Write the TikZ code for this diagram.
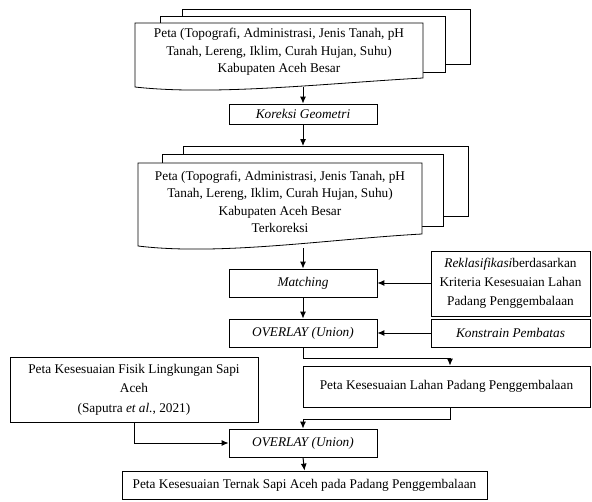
\documentclass[tikz,border=0pt]{standalone}
\usepackage{fontspec}
\setmainfont{Liberation Serif}
\usetikzlibrary{arrows.meta}

\begin{document}
\begin{tikzpicture}[x=1pt,y=-1pt, line width=0.8pt,
		every node/.style={font=\fontsize{13.3}{17.5}\selectfont, align=center},
		box/.style={draw, fill=white, inner sep=2pt},
		page/.style={draw, fill=white},
		line/.style={-{Latex[length=7pt,width=6pt]}, line width=1pt}]
	\useasboundingbox (0,0) rectangle (592,501);
	% peta awal, tiga lembar
	\draw[page] (182,9) rectangle (470,64);
	\draw[page] (160,16) rectangle (445,72);
	\draw[page] (135,23) -- (423,23) -- (423,78)
		.. controls (330,83) and (215,96) .. (135,87) -- cycle;
	\node (peta) at (279,52) {Peta (Topografi, Administrasi, Jenis Tanah, pH\\
		Tanah, Lereng, Iklim, Curah Hujan, Suhu)\\ Kabupaten Aceh Besar};
	\node[box, minimum width=148pt, minimum height=20pt] (koreksi) at (303,114) {\textit{Koreksi Geometri}};
	% peta terkoreksi
	\draw[page] (183,146) rectangle (468,216);
	\draw[page] (162,154) rectangle (443,226);
	\draw[page] (138,163) -- (422,163) -- (422,234)
		.. controls (330,239) and (220,256) .. (138,246) -- cycle;
	\node (koreksipeta) at (280,202) {Peta (Topografi, Administrasi, Jenis Tanah, pH\\
		Tanah, Lereng, Iklim, Curah Hujan, Suhu)\\ Kabupaten Aceh Besar\\ Terkoreksi};
	\coordinate (petabawah) at (303,87);
	\coordinate (koreksiatas) at (303,146);
	\coordinate (koreksibawah) at (303,248);

	\node[box, minimum width=148pt, minimum height=28pt] (matching) at (303,283) {\textit{Matching}};
	\node[box, minimum width=148pt, minimum height=28pt] (overlaya) at (303,333) {\textit{OVERLAY (Union)}};
	\node[box, minimum width=159pt, minimum height=65pt, font=\fontsize{13.3}{19}\selectfont] (reklas) at (510.5,283.5)
		{\textit{Reklasifikasi}berdasarkan\\ Kriteria Kesesuaian Lahan\\ Padang Penggembalaan};
	\node[box, minimum width=159pt, minimum height=28pt] (konstrain) at (510.5,333) {\textit{Konstrain Pembatas}};
	\node[box, minimum width=287pt, minimum height=41pt] (lahan) at (446.5,386.5) {Peta Kesesuaian Lahan Padang Penggembalaan};
	\node[box, minimum width=248pt, minimum height=65pt, font=\fontsize{13.3}{19.5}\selectfont] (fisik) at (134,389.5)
		{Peta Kesesuaian Fisik Lingkungan Sapi\\ Aceh\\ (Saputra \textit{et al.}, 2021)};
	\node[box, minimum width=148pt, minimum height=28pt] (overlayb) at (303,443) {\textit{OVERLAY (Union)}};
	\node[box, minimum width=365pt, minimum height=28pt] (akhir) at (304.5,485) {Peta Kesesuaian Ternak Sapi Aceh pada Padang Penggembalaan};

	\path[line]
	(petabawah) edge (koreksi.north)
	(koreksi.south) edge (koreksiatas)
	(koreksibawah) edge (matching.north)
	(matching.south) edge (overlaya.north)
	(reklas.west |- matching.east) edge (matching.east)
	(konstrain.west) edge (overlaya.east)
	(overlayb.south) edge (akhir.north);
	\draw[line] (overlaya.south) -- ++(0,11) -| ([xshift=3.5pt]lahan.north);
	\draw[line] ([xshift=3.5pt]lahan.south) -- ++(0,12) -| (overlayb.north);
	\draw[line] (fisik.south) |- (overlayb.west);
\end{tikzpicture}
\end{document}
